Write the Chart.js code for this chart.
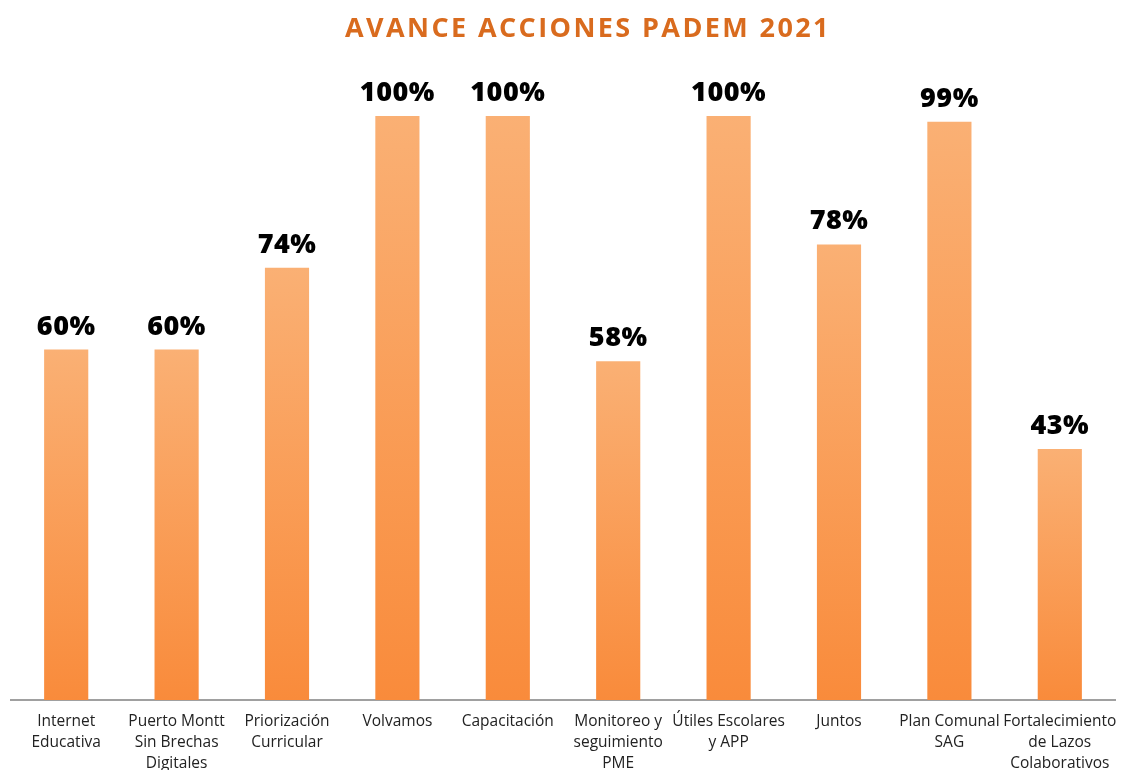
<!DOCTYPE html>
<html>
<head>
<meta charset="utf-8">
<style>
  html, body { margin: 0; padding: 0; background: #fff; }
  #chart { display: block; }
</style>
</head>
<body>
<canvas id="chart" width="1146" height="770"></canvas>
<script src="https://cdn.jsdelivr.net/npm/chart.js@4.4.0/dist/chart.umd.min.js"></script>
<script>
  const titleText = "AVANCE ACCIONES PADEM 2021";
  const categories = [
    ["Internet", "Educativa"],
    ["Puerto Montt", "Sin Brechas", "Digitales"],
    ["Priorización", "Curricular"],
    "Volvamos",
    "Capacitación",
    ["Monitoreo y", "seguimiento", "PME"],
    ["Útiles Escolares", "y APP"],
    "Juntos",
    ["Plan Comunal", "SAG"],
    ["Fortalecimiento", "de Lazos", "Colaborativos"]
  ];
  const avance = [60, 60, 74, 100, 100, 58, 100, 78, 99, 43];

  // light orange at the top of every bar, darker at its foot
  function barFill(context) {
    const chart = context.chart;
    const area = chart.chartArea;
    if (!area || context.type !== "data") return "#f99a50";
    const y = chart.scales.y;
    const top = y.getPixelForValue(context.raw);
    const bottom = y.getPixelForValue(0);
    const g = chart.ctx.createLinearGradient(0, top, 0, bottom);
    g.addColorStop(0, "#fab074");
    g.addColorStop(1, "#f98b3b");
    return g;
  }

  const valueLabels = {
    id: "valueLabels",
    afterDatasetsDraw(chart) {
      const ctx = chart.ctx;
      const meta = chart.getDatasetMeta(0);
      ctx.save();
      ctx.fillStyle = "#000";
      ctx.font = "800 27px 'Open Sans'";
      ctx.letterSpacing = "0.5px";
      ctx.textAlign = "center";
      ctx.textBaseline = "alphabetic";
      meta.data.forEach((bar, i) => {
        ctx.fillText(avance[i] + "%", bar.x, bar.y - 15);
      });
      ctx.restore();
    }
  };

  const titleDraw = {
    id: "titleDraw",
    afterDraw(chart) {
      const ctx = chart.ctx;
      ctx.save();
      ctx.fillStyle = "#d96b1e";
      ctx.font = "bold 27px 'Open Sans'";
      ctx.letterSpacing = "2.4px";
      ctx.textAlign = "center";
      ctx.textBaseline = "middle";
      ctx.fillText(titleText, 588, 29);
      ctx.restore();
    }
  };

  new Chart(document.getElementById("chart"), {
    type: "bar",
    data: {
      labels: categories,
      datasets: [{
        label: "Avance",
        data: avance,
        backgroundColor: barFill,
        categoryPercentage: 0.8,
        barPercentage: 0.5
      }]
    },
    options: {
      responsive: false,
      animation: false,
      layout: { padding: { top: 116, left: 11, right: 31, bottom: 0 } },
      plugins: {
        legend: { display: false },
        tooltip: { enabled: false },
        title: { display: false }
      },
      scales: {
        x: {
          grid: { display: false },
          border: { display: true, color: "#a0a0a0", width: 2 },
          ticks: {
            color: "#222",
            font: { family: "'Open Sans'", size: 15.5, lineHeight: 1.35 },
            padding: 3,
            maxRotation: 0,
            autoSkip: false
          },
          afterFit(scale) { scale.height = 70; }
        },
        y: {
          display: false,
          min: 0,
          max: 100
        }
      }
    },
    plugins: [valueLabels, titleDraw]
  });
</script>
</body>
</html>
